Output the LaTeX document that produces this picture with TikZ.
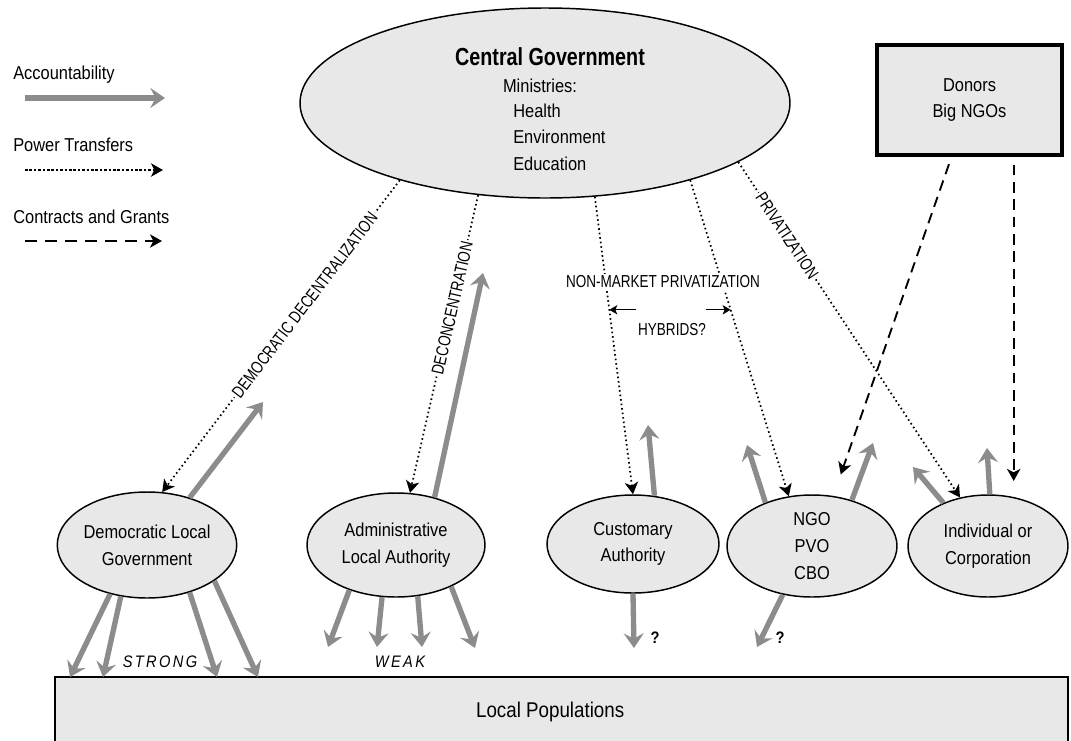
\documentclass[tikz,border=0pt]{standalone}
\usepackage{fontspec}
\setmainfont{Liberation Sans}[FakeStretch=0.88]
\usepackage{tikz}
\usetikzlibrary{arrows.meta, shapes.geometric, calc}

\definecolor{accgray}{gray}{0.55}
\definecolor{fillgray}{gray}{0.91}

\begin{document}
\begin{tikzpicture}
                [x=0.75pt, y=-0.75pt,
                esty/.style={ellipse, draw=black, line width=1.1pt, fill=fillgray, inner sep=0pt, align=center, font=\fontsize{14}{20}\selectfont},
                tsty/.style={inner sep=0pt, font=\fontsize{14}{20}\selectfont},
                lsty/.style={inner sep=1.5pt, font={\fontsize{13}{15}\selectfont\addfontfeature{FakeStretch=0.78}}},
                ssty/.style={inner sep=0pt, font={\itshape\fontsize{12.5}{14}\selectfont\addfontfeature{LetterSpace=14}}},
                qsty/.style={inner sep=0pt, font=\bfseries\fontsize{12.5}{14}\selectfont},
                asty/.style={-{Stealth[length=11pt, width=15pt, inset=4pt]}, draw=accgray, line width=4pt},
                psty/.style={-{Stealth[length=9pt, width=10pt, inset=2.5pt]}, line width=1.3pt, dash pattern=on 1.2pt off 2.2pt},
                gsty/.style={-{Stealth[length=9pt, width=10pt, inset=2.5pt]}, line width=1.4pt, dash pattern=on 8pt off 5pt},
                hsty/.style={-{Stealth[length=6pt, width=7pt, inset=1.5pt]}, line width=0.9pt}]
                \useasboundingbox (0,0) rectangle (1071,740);
                % legend
                \node[tsty, anchor=west] (lacc) at (13,75)  {Accountability};
                \node[tsty, anchor=west] (lpow) at (13,145) {Power Transfers};
                \node[tsty, anchor=west] (lcon) at (13,217) {Contracts and Grants};
                \coordinate (la1) at (25,98);  \coordinate (la2) at (165,98);
                \coordinate (lp1) at (25,170); \coordinate (lp2) at (163,170);
                \coordinate (lg1) at (25,241); \coordinate (lg2) at (162,241);
                \draw[asty] (la1) -- (la2);
                \draw[psty, line width=1.7pt, dash pattern=on 2pt off 1.3pt] (lp1) -- (lp2);
                \draw[gsty, dash pattern=on 9pt off 6pt] (lg1) -- (lg2);
                % nodes
                \node[esty, minimum width=367.5pt, minimum height=142.5pt] (cg) at (545,103) {};
                \node[font={\bfseries\fontsize{18.5}{20}\selectfont\addfontfeature{FakeStretch=0.8}}, inner sep=0pt] (cgtitle) at (550,57) {Central Government};
                \node[tsty] (cgmin) at (540,86) {Ministries:};
                \node[tsty, anchor=west, align=left] (cglist) at (513,137) {Health\\Environment\\Education};
                \node[draw, line width=2.3pt, fill=fillgray, minimum width=138.75pt, minimum height=82.5pt,
                      align=center, font=\fontsize{14}{20}\selectfont] (donors) at (969.5,100) {Donors\\Big NGOs};
                \node[esty, minimum width=132pt,   minimum height=79.5pt] (dlg)   at (147,545) {Democratic Local\\Government};
                \node[esty, minimum width=133.5pt, minimum height=78pt]   (ala)   at (396,545) {Administrative\\Local Authority};
                \node[esty, minimum width=129pt,   minimum height=73.5pt] (cust)  at (633,544) {Customary\\Authority};
                \node[esty, minimum width=127.5pt, minimum height=76.5pt] (ngo)   at (812,546) {NGO\\PVO\\CBO};
                \node[esty, minimum width=120pt,   minimum height=76.5pt] (indiv) at (988,546) {Individual or\\Corporation};
                \node[draw, line width=1.1pt, fill=fillgray, minimum width=759.75pt, minimum height=52.5pt,
                      font=\fontsize{16}{18}\selectfont] (locpop) at (561.5,712) {\hspace*{-17pt}Local Populations};
                % free ends of the accountability arrows
                \coordinate (dlgup) at (263,402);
                \coordinate (dlgd1) at (70,677);  \coordinate (dlgd2) at (103,677);
                \coordinate (dlgd3) at (217,677); \coordinate (dlgd4) at (258,677);
                \coordinate (alaup) at (483,273);
                \coordinate (alad1) at (328,647); \coordinate (alad2) at (377,647);
                \coordinate (alad3) at (422,647); \coordinate (alad4) at (475,648);
                \coordinate (custup) at (648,425); \coordinate (custdn) at (634,648);
                \coordinate (ngoupl) at (747,445); \coordinate (ngoupr) at (873,443);
                \coordinate (ngodn) at (757,647);
                \coordinate (indupl) at (913,467); \coordinate (indup) at (987,448);
                % power transfers
                \draw[psty] (cg.-152) -- node[lsty, sloped, fill=white, pos=0.40] (ddlab) {DEMOCRATIC DECENTRALIZATION} (dlg.74);
                \draw[psty] (cg.-126) -- node[lsty, sloped, fill=white, pos=0.38] (dclab) {DECONCENTRATION} (ala.75);
                \draw[psty] (cg.-62) -- coordinate[pos=0.38] (h1) (cust.90);
                \draw[psty] (cg.-28) -- coordinate[pos=0.41] (h2) (ngo.115);
                \draw[psty] (cg.-17) -- node[lsty, sloped, fill=white, pos=0.22] (pvlab) {PRIVATIZATION} (indiv.120);
                \node[lsty, fill=white] (nmplab) at (663,282) {NON-MARKET PRIVATIZATION};
                \node[lsty] (hyblab) at (672,330) {HYBRIDS?};
                \draw[hsty] ($(h1)+(27,0)$) -- (h1);
                \draw[hsty] ($(h2)+(-25,0)$) -- (h2);
                % contracts and grants
                \coordinate (g1) at ($(donors.south west)!0.405!(donors.south east)$);
                \coordinate (g2) at ($(donors.south west)!0.735!(donors.south east)$);
                \draw[gsty, shorten <=6pt, shorten >=17pt] (g1) -- (ngo.67);
                \draw[gsty, shorten <=6pt, shorten >=10pt] (g2) -- (g2 |- indiv.north);
                % accountability
                \draw[asty] (dlg.48) -- (dlgup);
                \draw[asty] (dlg.-127) -- (dlgd1);
                \draw[asty] (dlg.-117) -- (dlgd2);
                \draw[asty] (dlg.-48) -- (dlgd3);
                \draw[asty] (dlg.-28) -- (dlgd4);
                \draw[asty] (ala.51) -- (alaup);
                \draw[asty] (ala.-136) -- (alad1);
                \draw[asty] (ala.-105) -- (alad2);
                \draw[asty] (ala.-67) -- (alad3);
                \draw[asty] (ala.-37) -- (alad4);
                \draw[asty] (cust.66) -- (custup);
                \draw[asty] (cust.-90) -- (custdn);
                \draw[asty] (ngo.137) -- (ngoupl);
                \draw[asty] (ngo.49) -- (ngoupr);
                \draw[asty] (ngo.-121) -- (ngodn);
                \draw[asty] (indiv.136) -- (indupl);
                \draw[asty] (indiv.88) -- (indup);
                % labels
                \node[qsty] (q1) at (655,638) {?};
                \node[qsty] (q2) at (780,638) {?};
                \node[ssty] (strong) at (160,662) {STRONG};
                \node[ssty] (weak) at (400,662) {WEAK};
            \end{tikzpicture}
\end{document}
